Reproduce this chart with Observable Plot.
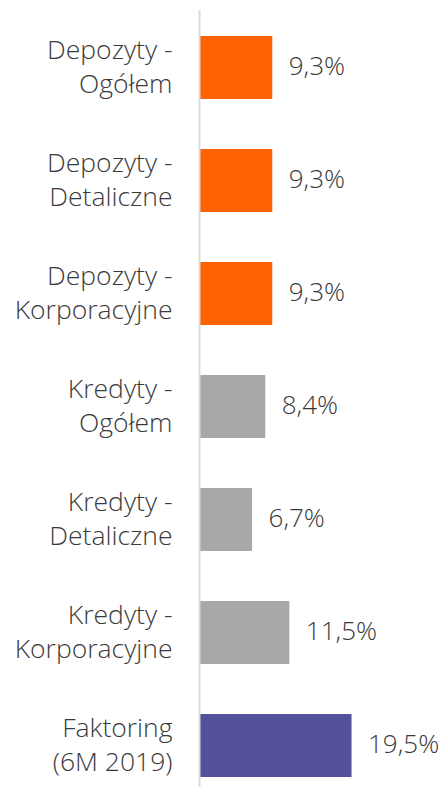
<!DOCTYPE html>
<html>
<head>
<meta charset="utf-8">
<script src="https://cdn.jsdelivr.net/npm/d3@7"></script>
<script src="https://cdn.jsdelivr.net/npm/@observablehq/plot@0.6"></script>
<style>
  html, body { margin: 0; padding: 0; background: #fff; }
  #chart svg { display: block; }
</style>
</head>
<body>
<div id="chart"></div>
<script>
const categories = [
  "Depozyty -\nOgółem",
  "Depozyty -\nDetaliczne",
  "Depozyty -\nKorporacyjne",
  "Kredyty -\nOgółem",
  "Kredyty -\nDetaliczne",
  "Kredyty -\nKorporacyjne",
  "Faktoring\n(6M 2019)"
];
const values = [9.3, 9.3, 9.3, 8.4, 6.7, 11.5, 19.5];
const groups = ["dep", "dep", "dep", "kred", "kred", "kred", "fakt"];
const valueLabels = ["9,3%", "9,3%", "9,3%", "8,4%", "6,7%", "11,5%", "19,5%"];

const data = categories.map((c, i) => ({cat: c, value: values[i], group: groups[i], label: valueLabels[i]}));

const font = "'Open Sans', Lato, sans-serif";

const chart = Plot.plot({
  width: 444,
  height: 787,
  marginLeft: 200,
  marginRight: 0,
  marginTop: 10,
  marginBottom: 0,
  style: {fontFamily: font, background: "#fff"},
  x: {domain: [0, 31.4], axis: null},
  y: {domain: categories, range: [34, 778], paddingInner: 0.445, paddingOuter: 0, axis: null},
  color: {domain: ["dep", "kred", "fakt"], range: ["#FF6200", "#A8A8A8", "#525199"]},
  marks: [
    Plot.barX(data, {x: "value", y: "cat", fill: "group"}),
    Plot.ruleX([0], {stroke: "#DCDCDC", strokeWidth: 2, dx: -1}),
    Plot.text(data, {x: 0, y: "cat", text: "cat", textAnchor: "end", dx: -28, dy: -3, fontSize: 26.5, fontWeight: 300, lineHeight: 1.3, fill: "#3a3a3a"}),
    Plot.text(data, {x: "value", y: "cat", text: "label", textAnchor: "start", dx: 16, dy: -1, fontSize: 26, fontWeight: 300, fill: "#3a3a3a"})
  ]
});
document.getElementById("chart").appendChild(chart);
</script>
</body>
</html>
